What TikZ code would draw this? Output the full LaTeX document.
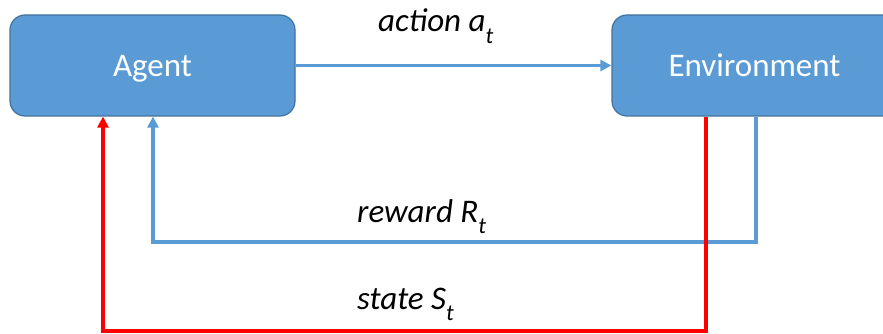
\documentclass[tikz,border=0pt]{standalone}
\usepackage{fontspec}
\setmainfont{Carlito}
\usetikzlibrary{arrows.meta}
\definecolor{boxfill}{HTML}{5B9BD5}
\definecolor{boxline}{HTML}{41719C}
\definecolor{linkblue}{HTML}{5B9BD5}
\tikzset{
  blockbox/.style={draw=boxline, line width=1.2pt, fill=boxfill, rounded corners=15pt,
    minimum width=285pt, minimum height=101pt, inner sep=0pt, text=white,
    text height=24pt, text depth=1pt,
    font=\fontsize{33}{40}\selectfont},
  bluelink/.style={draw=linkblue, line width=3.2pt, -{Triangle[length=11pt,width=11pt]}},
  redlink/.style={draw=red, line width=3.2pt, -{Triangle[length=11pt,width=11pt]}},
  flowlabel/.style={anchor=base west, inner sep=0pt, font=\fontsize{33}{38}\selectfont\itshape},
}
\newcommand{\subt}{\raisebox{-0.36em}{\fontsize{23}{24}\selectfont t}}
\begin{document}
\begin{tikzpicture}[x=1pt,y=-1pt]
\useasboundingbox (0,0) rectangle (883,334);
\clip (0,0) rectangle (883,334);
\node[blockbox] (agent) at (152.5,65.5) {Agent};
\node[blockbox] (env) at (754.5,65.5) {Environment};
\coordinate (bR) at (756,242);
\coordinate (bL) at (153,242);
\coordinate (rR) at (706,331);
\coordinate (rL) at (103,331);
\draw[bluelink] (agent.east) -- (env.west);
\draw[bluelink] (env.south -| bR) -- (bR) -- (bL) -- (agent.south -| bL);
\draw[redlink] (env.south -| rR) -- (rR) -- (rL) -- (agent.south -| rL);
\node[flowlabel] (lact) at (378,32) {action a\subt};
\node[flowlabel] (lrew) at (357,222) {reward R\subt};
\node[flowlabel] (lsta) at (357,309) {state S\subt};
\end{tikzpicture}
\end{document}
